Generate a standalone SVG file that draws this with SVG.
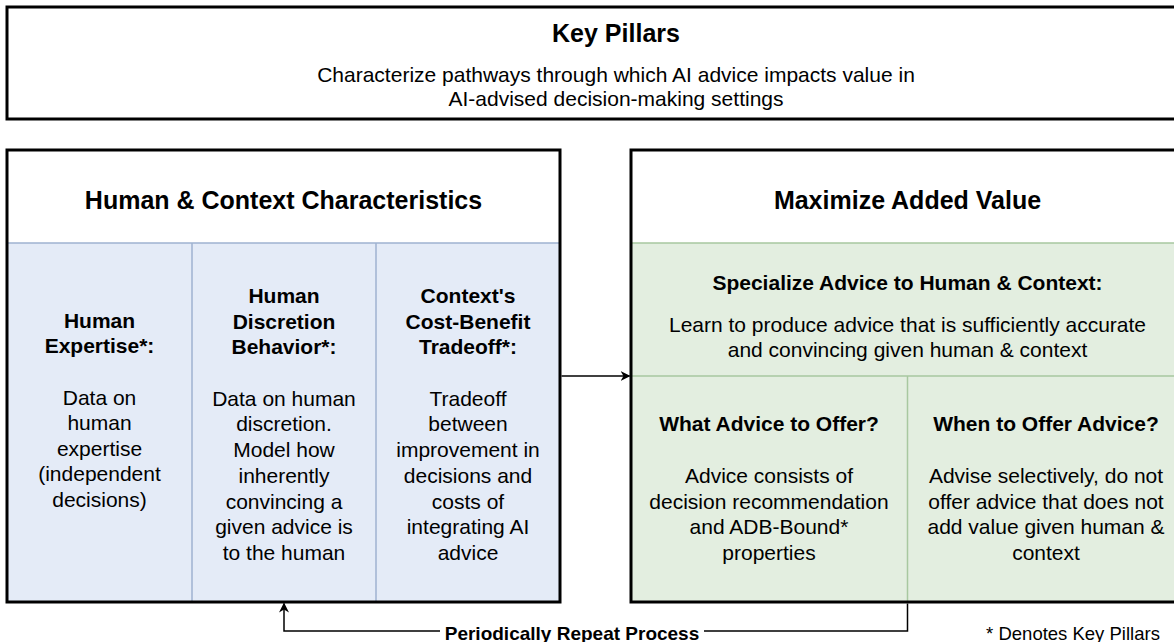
<svg xmlns="http://www.w3.org/2000/svg" width="1174" height="642" viewBox="0 0 1174 642">
  <defs>
    <marker id="arrow" viewBox="0 0 10 10" refX="9" refY="5" markerWidth="10" markerHeight="10" markerUnits="userSpaceOnUse" orient="auto">
      <path d="M0,0 L10,5 L0,10 L3,5 z" fill="#000"/>
    </marker>
    <style>
      text { font-family: "Liberation Sans", Arial, Helvetica, sans-serif; fill: #000; text-anchor: middle; }
      .title { font-size: 25px; font-weight: bold; }
      .hd { font-size: 21px; font-weight: bold; }
      .body { font-size: 21px; }
      .frame { fill: none; stroke: #000; stroke-width: 3; }
      .blue { fill: #e4ebf7; }
      .green { fill: #e3eee0; }
      .bdiv { stroke: #9fb3d1; stroke-width: 1.5; fill: none; }
      .gdiv { stroke: #a8c8a0; stroke-width: 1.5; fill: none; }
      .conn { stroke: #000; stroke-width: 1.5; fill: none; }
    </style>
  </defs>
  <rect width="1174" height="642" fill="#fff"/>

  <g id="key-pillars">
    <rect x="7" y="7" width="1218" height="112" fill="#fff" class="frame"/>
    <text x="616" y="42" class="title">Key Pillars</text>
    <text x="616" y="82" class="body">Characterize pathways through which AI advice impacts value in</text>
    <text x="616" y="106" class="body">AI-advised decision-making settings</text>
  </g>

  <g id="human-context">
    <rect x="7" y="150" width="553" height="452" fill="#fff"/>
    <rect x="7" y="243" width="553" height="359" class="blue"/>
    <path d="M7,243 H560 M192,243 V602 M376,243 V602" class="bdiv"/>
    <rect x="7" y="150" width="553" height="452" class="frame"/>
    <text x="283.5" y="209" class="title">Human &amp; Context Characteristics</text>
    <g id="human-expertise">
      <text x="99.5" y="328" class="hd">Human</text>
      <text x="99.5" y="353" class="hd">Expertise*:</text>
      <text x="99.5" y="405" class="body">Data on</text>
      <text x="99.5" y="430" class="body">human</text>
      <text x="99.5" y="456" class="body">expertise</text>
      <text x="99.5" y="481" class="body">(independent</text>
      <text x="99.5" y="507" class="body">decisions)</text>
    </g>
    <g id="human-discretion">
      <text x="284" y="303" class="hd">Human</text>
      <text x="284" y="329" class="hd">Discretion</text>
      <text x="284" y="354" class="hd">Behavior*:</text>
      <text x="284" y="405.5" class="body">Data on human</text>
      <text x="284" y="431" class="body">discretion.</text>
      <text x="284" y="457" class="body">Model how</text>
      <text x="284" y="483" class="body">inherently</text>
      <text x="284" y="508.5" class="body">convincing a</text>
      <text x="284" y="534" class="body">given advice is</text>
      <text x="284" y="560" class="body">to the human</text>
    </g>
    <g id="cost-benefit">
      <text x="468" y="303" class="hd">Context's</text>
      <text x="468" y="329" class="hd">Cost-Benefit</text>
      <text x="468" y="354" class="hd">Tradeoff*:</text>
      <text x="468" y="405.5" class="body">Tradeoff</text>
      <text x="468" y="431" class="body">between</text>
      <text x="468" y="457" class="body">improvement in</text>
      <text x="468" y="483" class="body">decisions and</text>
      <text x="468" y="508.5" class="body">costs of</text>
      <text x="468" y="534" class="body">integrating AI</text>
      <text x="468" y="560" class="body">advice</text>
    </g>
  </g>

  <g id="maximize-value">
    <rect x="631" y="150" width="553" height="452" fill="#fff"/>
    <rect x="631" y="243" width="553" height="359" class="green"/>
    <path d="M631,243 H1184 M631,376 H1184 M907.5,376 V602" class="gdiv"/>
    <rect x="631" y="150" width="553" height="452" class="frame"/>
    <text x="907.5" y="209" class="title">Maximize Added Value</text>
    <g id="specialize">
      <text x="907.5" y="290" class="hd">Specialize Advice to Human &amp; Context:</text>
      <text x="907.5" y="332" class="body">Learn to produce advice that is sufficiently accurate</text>
      <text x="907.5" y="357" class="body">and convincing given human &amp; context</text>
    </g>
    <g id="what-advice">
      <text x="769" y="431" class="hd">What Advice to Offer?</text>
      <text x="769" y="483" class="body">Advice consists of</text>
      <text x="769" y="508.5" class="body">decision recommendation</text>
      <text x="769" y="534" class="body">and ADB-Bound*</text>
      <text x="769" y="560" class="body">properties</text>
    </g>
    <g id="when-advice">
      <text x="1046" y="431" class="hd">When to Offer Advice?</text>
      <text x="1046" y="483" class="body">Advise selectively, do not</text>
      <text x="1046" y="508.5" class="body">offer advice that does not</text>
      <text x="1046" y="534" class="body">add value given human &amp;</text>
      <text x="1046" y="560" class="body">context</text>
    </g>
  </g>

  <g id="connectors">
    <path d="M561.5,376 H629.5" class="conn" marker-end="url(#arrow)"/>
    <path d="M907.5,603.5 V631 H284 V603.5" class="conn" marker-end="url(#arrow)"/>
    <rect x="440" y="621" width="264" height="21" fill="#fff"/>
    <text x="572" y="640" style="font-size:19px;font-weight:bold">Periodically Repeat Process</text>
  </g>

  <g id="footnote">
    <text x="1073" y="640" style="font-size:18.5px">* Denotes Key Pillars</text>
  </g>
</svg>
